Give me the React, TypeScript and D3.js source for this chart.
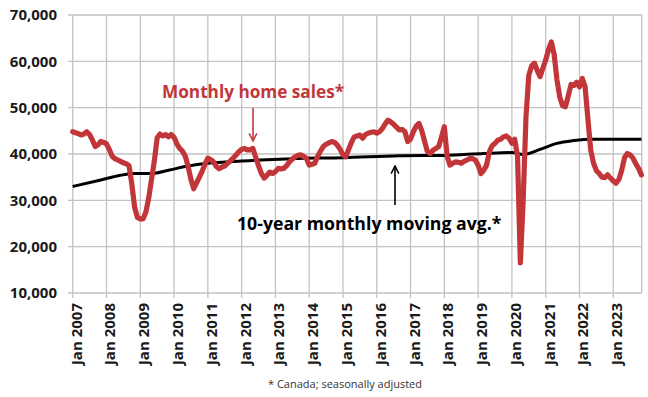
import { useEffect, useRef } from "react";
import * as d3 from "d3";

// monthly home sales, thousands (Jan..Dec)
const sales2007 = [44.8, 44.6, 44.4, 44.1, 44.3, 44.8, 44.2, 43.0, 41.6, 42.0, 42.7, 42.5];
const sales2008 = [42.2, 41.0, 39.5, 39.0, 38.7, 38.4, 38.1, 37.9, 37.5, 33.5, 28.5, 26.3];
const sales2009 = [26.0, 26.0, 27.5, 30.5, 34.5, 38.5, 43.5, 44.3, 43.9, 44.2, 43.7, 44.2];
const sales2010 = [43.6, 42.2, 41.2, 40.6, 39.5, 37.3, 34.5, 32.5, 33.8, 35.0, 36.3, 37.8];
const sales2011 = [39.1, 38.8, 38.3, 37.3, 36.8, 37.2, 37.4, 38.0, 38.5, 39.1, 39.8, 40.5];
const sales2012 = [41.0, 41.2, 40.9, 40.9, 41.2, 39.3, 37.5, 35.8, 34.8, 35.4, 36.1, 35.8];
const sales2013 = [36.2, 36.9, 36.8, 36.9, 37.5, 38.3, 38.9, 39.4, 39.7, 39.8, 39.5, 39.1];
const sales2014 = [37.6, 37.8, 38.0, 39.5, 40.6, 41.6, 42.1, 42.4, 42.7, 42.5, 41.9, 41.0];
const sales2015 = [39.8, 39.4, 41.0, 42.5, 43.7, 43.9, 44.1, 43.4, 44.2, 44.5, 44.7, 44.8];
const sales2016 = [44.5, 44.8, 45.5, 46.5, 47.3, 46.9, 46.4, 45.8, 45.2, 45.3, 44.8, 42.7];
const sales2017 = [43.2, 44.8, 46.0, 46.6, 45.0, 42.7, 40.5, 40.1, 40.8, 41.2, 41.6, 43.7];
const sales2018 = [45.9, 39.5, 37.6, 38.0, 38.3, 38.2, 38.0, 38.4, 38.7, 39.0, 39.0, 38.7];
const sales2019 = [37.6, 35.8, 36.5, 37.6, 40.5, 41.8, 42.3, 43.0, 43.2, 43.7, 43.9, 43.4];
const sales2020 = [42.3, 43.2, 39.5, 16.5, 30.0, 48.0, 57.0, 59.0, 59.6, 58.0, 56.7, 58.5];
const sales2021 = [60.3, 62.5, 64.2, 61.5, 56.0, 52.3, 50.4, 50.2, 52.5, 55.0, 54.8, 55.5];
const sales2022 = [54.5, 56.3, 54.5, 47.5, 40.8, 38.0, 36.4, 35.8, 35.0, 34.9, 35.5, 34.8];
const sales2023 = [34.2, 33.7, 34.5, 36.5, 39.2, 40.1, 39.8, 39.1, 37.9, 36.9, 35.5];

const yearlySales = [
  sales2007, sales2008, sales2009, sales2010, sales2011, sales2012, sales2013, sales2014, sales2015,
  sales2016, sales2017, sales2018, sales2019, sales2020, sales2021, sales2022, sales2023,
];

// 10-year moving average, read at these month indexes (0 = Jan 2007), thousands
const avgMonths = [0, 10, 17, 22, 28, 34, 40, 48, 60, 78, 96, 116, 132, 146, 156, 160, 166, 172, 178, 184, 202];
const avgValues = [33.0, 34.4, 35.4, 35.8, 35.8, 36.5, 37.3, 38.0, 38.5, 39.0, 39.2, 39.6, 39.7, 40.1, 40.3, 39.9, 41.0, 42.3, 42.9, 43.2, 43.2];

const yTicks = [10000, 20000, 30000, 40000, 50000, 60000, 70000];
const xTickLabels = [
  "Jan 2007", "Jan 2008", "Jan 2009", "Jan 2010", "Jan 2011", "Jan 2012", "Jan 2013", "Jan 2014", "Jan 2015",
  "Jan 2016", "Jan 2017", "Jan 2018", "Jan 2019", "Jan 2020", "Jan 2021", "Jan 2022", "Jan 2023",
];

const RED = "#c2363a";
const FONT = "'Open Sans', sans-serif";

export default function App() {
  const ref = useRef<SVGSVGElement>(null);

  useEffect(() => {
    if (!ref.current) return;
    const svg = d3.select(ref.current);
    svg.selectAll("*").remove();

    const left = 68, right = 641.7, top = 15, bottom = 293;
    const x = d3.scaleLinear().domain([-1.67, 202.1]).range([left, right]);
    const y = d3.scaleLinear().domain([10000, 70000]).range([bottom, top]);

    const sales = yearlySales.flat().map((v, i) => ({ m: i, v: v * 1000 }));
    const avg = avgMonths.map((m, i) => ({ m, v: avgValues[i] * 1000 }));
    const tickMonths = xTickLabels.map((_, i) => i * 12);

    // gridlines
    const grid = svg.append("g").attr("stroke", "#c3c3c3").attr("stroke-width", 1.3);
    grid.selectAll("line.h")
      .data(yTicks)
      .enter()
      .append("line")
      .attr("x1", left)
      .attr("x2", right)
      .attr("y1", (d) => y(d))
      .attr("y2", (d) => y(d));
    grid.selectAll("line.v")
      .data(tickMonths)
      .enter()
      .append("line")
      .attr("x1", (d) => x(d))
      .attr("x2", (d) => x(d))
      .attr("y1", top)
      .attr("y2", bottom + 5);
    grid.append("line").attr("x1", right).attr("x2", right).attr("y1", top).attr("y2", bottom);

    // y labels
    svg.append("g")
      .selectAll("text")
      .data(yTicks)
      .enter()
      .append("text")
      .attr("x", 57)
      .attr("y", (d) => y(d))
      .attr("dy", "0.36em")
      .attr("text-anchor", "end")
      .style("font-family", FONT)
      .style("font-weight", "bold")
      .style("font-size", "15px")
      .style("fill", "#1a1a1a")
      .text((d) => d3.format(",")(d));

    // x labels
    svg.append("g")
      .selectAll("text")
      .data(tickMonths)
      .enter()
      .append("text")
      .attr("transform", (d) => `translate(${x(d) + 9},303) rotate(-90)`)
      .attr("text-anchor", "end")
      .style("font-family", FONT)
      .style("font-weight", "bold")
      .style("font-size", "15px")
      .style("fill", "#1a1a1a")
      .text((_, i) => xTickLabels[i]);

    // moving average
    const avgLine = d3.line<{ m: number; v: number }>()
      .x((d) => x(d.m))
      .y((d) => y(d.v))
      .curve(d3.curveMonotoneX);
    svg.append("path")
      .attr("d", avgLine(avg))
      .attr("fill", "none")
      .attr("stroke", "#000")
      .attr("stroke-width", 3);

    // sales
    const salesLine = d3.line<{ m: number; v: number }>()
      .x((d) => x(d.m))
      .y((d) => y(d.v));
    svg.append("path")
      .attr("d", salesLine(sales))
      .attr("fill", "none")
      .attr("stroke", RED)
      .attr("stroke-width", 5.2)
      .attr("stroke-linejoin", "round")
      .attr("stroke-linecap", "round");

    // annotations
    const defs = svg.append("defs");
    const marker = (id: string, color: string) =>
      defs.append("marker")
        .attr("id", id)
        .attr("viewBox", "0 0 10 10")
        .attr("refX", 9)
        .attr("refY", 5)
        .attr("markerWidth", 6)
        .attr("markerHeight", 6)
        .attr("orient", "auto")
        .append("path")
        .attr("d", "M1,1 L9,5 L1,9")
        .attr("fill", "none")
        .attr("stroke", color)
        .attr("stroke-width", 1.6);
    marker("arrRed", RED);
    marker("arrBlack", "#000");

    svg.append("text")
      .attr("x", 162)
      .attr("y", 98)
      .style("font-family", FONT)
      .style("font-weight", "bold")
      .style("font-size", "17.2px")
      .style("fill", RED)
      .text("Monthly home sales*");
    svg.append("line")
      .attr("x1", 253).attr("x2", 253)
      .attr("y1", 108).attr("y2", 141)
      .attr("stroke", RED)
      .attr("stroke-width", 1.6)
      .attr("marker-end", "url(#arrRed)");

    svg.append("text")
      .attr("x", 237)
      .attr("y", 230)
      .style("font-family", FONT)
      .style("font-weight", "bold")
      .style("font-size", "17.7px")
      .style("fill", "#000")
      .text("10-year monthly moving avg.*");
    svg.append("line")
      .attr("x1", 395).attr("x2", 395)
      .attr("y1", 205).attr("y2", 166)
      .attr("stroke", "#000")
      .attr("stroke-width", 1.6)
      .attr("marker-end", "url(#arrBlack)");

    svg.append("text")
      .attr("x", 268)
      .attr("y", 388)
      .style("font-family", FONT)
      .style("font-size", "11px")
      .style("fill", "#333")
      .text("* Canada; seasonally adjusted");
  }, []);

  return (
    <svg
      ref={ref}
      width={648}
      height={397}
      style={{ position: "absolute", left: 0, top: 0, background: "#fff" }}
    />
  );
}
